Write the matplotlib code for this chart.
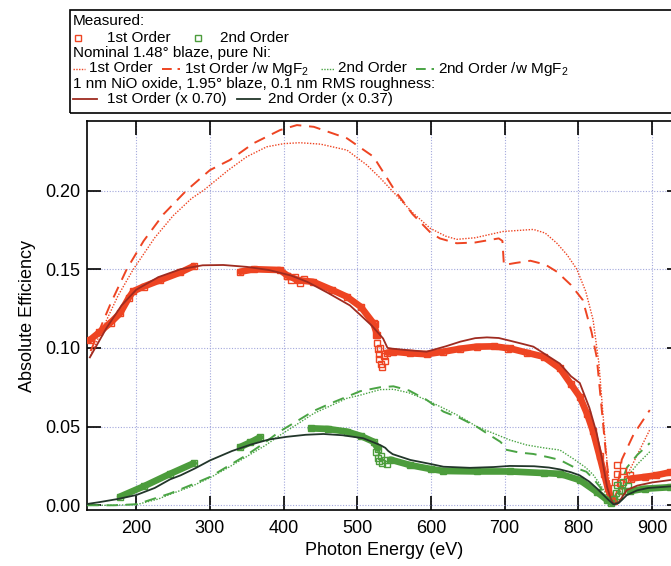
import matplotlib
matplotlib.use("Agg")
import matplotlib.pyplot as plt
from matplotlib.lines import Line2D
from matplotlib.patches import Rectangle

plt.rcParams["font.family"] = ["Liberation Sans", "DejaVu Sans"]
plt.rcParams["mathtext.fontset"] = "custom"
plt.rcParams["mathtext.rm"] = "Liberation Sans"
plt.rcParams["mathtext.it"] = "Liberation Sans:italic"

RED = "#ee4422"
GREEN = "#4c9c3c"
GREEN_LN = "#4aa444"
DARK_RED = "#9e2b20"
DARK_GREEN = "#22362a"
GRID = "#a3a8dc"

# nominal 1.48 deg blaze, pure Ni (1st order)
nom1_ev = [138, 150, 160, 175, 196, 225, 250, 275, 291, 325, 350, 377, 400, 422,
           450, 486, 513, 531, 547, 575, 599, 620, 635, 660, 698, 739, 755, 771,
           785, 798, 810, 820, 828, 834, 840, 845, 848, 855, 863, 880, 897]
nom1_val = [0.095, 0.108, 0.118, 0.133, 0.150, 0.170, 0.184, 0.195, 0.200, 0.213,
            0.2215, 0.2278, 0.2298, 0.2304, 0.2295, 0.2257, 0.2162, 0.208, 0.200,
            0.186, 0.176, 0.171, 0.169, 0.170, 0.174, 0.1753, 0.173, 0.1665,
            0.159, 0.150, 0.136, 0.118, 0.090, 0.055, 0.022, 0.006, 0.003,
            0.006, 0.016, 0.032, 0.048]

# same, with MgF2 overlayer (1st order)
nom1m_ev = [138, 165, 187, 210, 237, 268, 300, 327, 359, 395, 418, 441, 486, 522,
            551, 575, 600, 612, 635, 660, 692, 697, 699, 715, 735, 755, 771, 790,
            806, 818, 825, 832, 838, 843, 847, 852, 859, 875, 897]
nom1m_val = [0.098, 0.128, 0.150, 0.168, 0.185, 0.200, 0.213, 0.2194, 0.230,
             0.2384, 0.2416, 0.2405, 0.2332, 0.2215, 0.200, 0.185, 0.173, 0.1696,
             0.1665, 0.167, 0.1696, 0.168, 0.1527, 0.154, 0.1554, 0.153, 0.1484,
             0.140, 0.1305, 0.110, 0.094, 0.060, 0.030, 0.010, 0.003, 0.008,
             0.029, 0.045, 0.0605]

# nominal 2nd order
nom2_ev = [133, 170, 201, 230, 246, 275, 300, 325, 350, 375, 395, 420, 441, 465,
           486, 504, 531, 549, 570, 594, 620, 640, 662, 685, 707, 730, 753, 775,
           795, 810, 820, 830, 838, 845, 852, 860, 866, 880, 897]
nom2_val = [0.0, 0.0, 0.0005, 0.004, 0.007, 0.012, 0.0175, 0.024, 0.031, 0.038,
            0.0445, 0.052, 0.0584, 0.0635, 0.068, 0.070, 0.0735, 0.0737, 0.0715,
            0.0669, 0.061, 0.0563, 0.050, 0.0457, 0.0415, 0.0383, 0.0365, 0.0351,
            0.029, 0.024, 0.0195, 0.013, 0.007, 0.002, 0.004, 0.012, 0.018,
            0.026, 0.034]

# nominal 2nd order with MgF2
nom2m_ev = [133, 170, 201, 246, 275, 300, 325, 350, 375, 395, 420, 441, 465, 486,
            504, 531, 549, 570, 594, 617, 640, 662, 676, 694, 697, 700, 720, 739,
            760, 775, 795, 811, 822, 832, 840, 845, 852, 859, 866, 880, 897]
nom2m_val = [0.0, 0.0, 0.0007, 0.0075, 0.013, 0.018, 0.025, 0.032, 0.040, 0.047,
             0.054, 0.060, 0.065, 0.069, 0.0725, 0.0750, 0.0756, 0.073, 0.067,
             0.0595, 0.0553, 0.050, 0.0457, 0.0404, 0.039, 0.0355, 0.0335, 0.0326,
             0.0305, 0.0288, 0.024, 0.0213, 0.016, 0.010, 0.004, 0.0015, 0.005,
             0.015, 0.024, 0.032, 0.0395]

# model: 1 nm NiO, 1.95 deg blaze, 0.1 nm rms (scaled)
mod1_ev = [137, 160, 180, 200, 230, 260, 290, 318, 350, 380, 410, 432, 460, 490,
           504, 520, 535, 541, 548, 570, 594, 620, 640, 660, 676, 692, 707, 725,
           739, 755, 775, 790, 802, 815, 825, 832, 839, 844, 848, 855, 866, 880,
           900, 940]
mod1_val = [0.094, 0.113, 0.127, 0.137, 0.145, 0.150, 0.1525, 0.1527, 0.1515,
            0.1495, 0.146, 0.142, 0.135, 0.127, 0.121, 0.114, 0.106, 0.100,
            0.0995, 0.0985, 0.0976, 0.101, 0.104, 0.1062, 0.1067, 0.1063, 0.1046,
            0.1025, 0.1008, 0.096, 0.090, 0.082, 0.0777, 0.062, 0.0457, 0.030,
            0.0118, 0.004, 0.001, 0.002, 0.0097, 0.0125, 0.0145, 0.017]

mod2_ev = [133, 150, 175, 200, 225, 246, 260, 280, 300, 330, 355, 380, 404, 430,
           454, 480, 508, 531, 538, 542, 548, 572, 600, 617, 653, 685, 707, 740,
           760, 775, 790, 802, 815, 825, 834, 841, 848, 855, 866, 880, 895, 940]
mod2_val = [0.0008, 0.002, 0.004, 0.0065, 0.011, 0.0165, 0.019, 0.0235, 0.0285,
            0.0345, 0.0385, 0.0418, 0.0435, 0.0448, 0.0453, 0.0445, 0.0426,
            0.0383, 0.0365, 0.0345, 0.0325, 0.0288, 0.0262, 0.0245, 0.0238,
            0.0243, 0.025, 0.0248, 0.024, 0.0228, 0.021, 0.019, 0.015, 0.0108,
            0.0066, 0.0034, 0.0005, 0.0015, 0.0065, 0.0095, 0.011, 0.0125]

# measured 1st order, continuous runs
meas1_runs = [
    ([137, 150, 165, 178, 190, 196, 210, 232, 260, 278],
     [0.105, 0.110, 0.116, 0.122, 0.132, 0.136, 0.139, 0.143, 0.148, 0.152]),
    ([341, 360, 395, 405, 420, 440, 465, 486, 505, 522, 527],
     [0.1484, 0.150, 0.1495, 0.146, 0.143, 0.142, 0.137, 0.1325, 0.126, 0.1156,
      0.108]),
    ([541, 549, 572, 594, 617, 640, 662, 685, 707, 730, 753, 775, 790, 802, 812,
      820, 829, 835, 840, 845, 849],
     [0.097, 0.0976, 0.0966, 0.0960, 0.0976, 0.0995, 0.1008, 0.1010, 0.0997,
      0.097, 0.0944, 0.087, 0.077, 0.069, 0.058, 0.047, 0.031, 0.020, 0.011,
      0.004, 0.003]),
    ([872, 890, 905, 925, 940],
     [0.017, 0.018, 0.019, 0.021, 0.022]),
]
meas1_pts_ev = [405, 410, 415, 422, 428, 524, 526, 527, 528, 529, 530, 531, 532,
                534, 536, 538, 705, 850, 852, 853, 857, 859, 861, 866, 870]
meas1_pts_val = [0.146, 0.143, 0.145, 0.141, 0.144, 0.115, 0.108, 0.103, 0.099,
                 0.096, 0.093, 0.100, 0.090, 0.088, 0.095, 0.092, 0.099, 0.015,
                 0.0256, 0.020, 0.014, 0.009, 0.022, 0.0165, 0.019]

# measured 2nd order, continuous runs
meas2_runs = [
    ([178, 210, 246, 278],
     [0.0055, 0.012, 0.020, 0.0267]),
    ([341, 355, 368],
     [0.037, 0.040, 0.0432]),
    ([437, 460, 486, 505, 522, 528],
     [0.0489, 0.0485, 0.0468, 0.0440, 0.0404, 0.036]),
    ([545, 572, 600, 617, 662, 707, 753, 775, 802, 825, 839, 845],
     [0.029, 0.0255, 0.023, 0.0218, 0.0215, 0.0215, 0.0205, 0.0200, 0.016,
      0.0085, 0.0034, 0.0015]),
    ([870, 890, 925, 940],
     [0.009, 0.0105, 0.0115, 0.012]),
]
meas2_pts_ev = [526, 528, 530, 532, 534, 537, 540, 848, 851, 853, 855, 858, 861,
                864, 868]
meas2_pts_val = [0.034, 0.030, 0.028, 0.031, 0.027, 0.029, 0.026, 0.004, 0.008,
                 0.013, 0.006, 0.010, 0.015, 0.009, 0.012]

W, H = 671, 566
fig = plt.figure(figsize=(W / 100, H / 100), dpi=100)
ax = fig.add_axes([87 / W, (H - 510) / H, (681 - 87) / W, (510 - 121) / H])

# nominal curves
ax.plot(nom1_ev, nom1_val, color=RED, lw=1.0, dashes=(1, 1.1), zorder=3)
ax.plot(nom1m_ev, nom1m_val, color=RED, lw=1.4, dashes=(6, 4), zorder=3)
ax.plot(nom2_ev, nom2_val, color=GREEN_LN, lw=1.0, dashes=(1, 1.1), zorder=3)
ax.plot(nom2m_ev, nom2m_val, color=GREEN_LN, lw=1.4, dashes=(6, 4), zorder=3)

# measured data: dense open squares merge into a band
for ev, val in meas1_runs:
    ax.plot(ev, val, color=RED, lw=4.8, solid_capstyle="round", zorder=4)
    ax.plot(ev, val, ls="none", marker="s", ms=4.5, mfc="none", mec=RED,
            mew=1.0, zorder=4)
ax.plot(meas1_pts_ev, meas1_pts_val, ls="none", marker="s", ms=4.5, mfc="none",
        mec=RED, mew=1.0, zorder=4)
for ev, val in meas2_runs:
    ax.plot(ev, val, color=GREEN, lw=4.8, solid_capstyle="round", zorder=4)
    ax.plot(ev, val, ls="none", marker="s", ms=4.5, mfc="none", mec=GREEN,
            mew=1.0, zorder=4)
ax.plot(meas2_pts_ev, meas2_pts_val, ls="none", marker="s", ms=4.5, mfc="none",
        mec=GREEN, mew=1.0, zorder=4)

# model curves
ax.plot(mod1_ev, mod1_val, color=DARK_RED, lw=1.3, zorder=5)
ax.plot(mod2_ev, mod2_val, color=DARK_GREEN, lw=1.3, zorder=5)

ax.set_xlim(133.1, 939.4)
ax.set_ylim(-0.003, 0.2442)
ax.set_xticks([200, 300, 400, 500, 600, 700, 800, 900])
ax.set_yticks([0.0, 0.05, 0.10, 0.15, 0.20])
ax.set_yticklabels(["0.00", "0.05", "0.10", "0.15", "0.20"])
ax.tick_params(direction="in", length=10, width=1.2, top=True, right=True,
               labelsize=13, pad=5)
ax.tick_params(axis="x", pad=7)
for sp in ax.spines.values():
    sp.set_linewidth(1.2)
ax.grid(True, color=GRID, ls=(0, (1, 1.5)), lw=0.8)
ax.set_axisbelow(True)
ax.set_xlabel("Photon Energy (eV)", fontsize=13, labelpad=4)
ax.set_ylabel("Absolute Efficiency", fontsize=13, labelpad=6)

# legend box, laid out in pixel positions
renderer = fig.canvas.get_renderer()
LEG_FS = 11


def fx(x):
    return x / W


def fy(y):
    return 1 - y / H


fig.patches.append(Rectangle((fx(70), fy(113)), fx(700) - fx(70), fy(10) - fy(113),
                             transform=fig.transFigure, fill=False,
                             edgecolor="black", lw=1.2))


def leg_text(x, y, s):
    t = fig.text(fx(x), fy(y), s, fontsize=LEG_FS, va="baseline", ha="left")
    return x + t.get_window_extent(renderer).width


def leg_line(x0, x1, y, **kw):
    fig.add_artist(Line2D([fx(x0), fx(x1)], [fy(y), fy(y)],
                          transform=fig.transFigure, **kw))


def leg_square(x, y, color):
    fig.add_artist(Line2D([fx(x)], [fy(y)], transform=fig.transFigure,
                          ls="none", marker="s", ms=5, mfc="none", mec=color,
                          mew=1.0))


leg_text(73, 25, "Measured:")
leg_square(78, 37.5, RED)
leg_text(107, 41.7, "1st Order")
leg_square(198, 37.5, GREEN)
leg_text(220, 41.7, "2nd Order")

leg_text(73, 57, "Nominal 1.48° blaze, pure Ni:")
y4, m4 = 72.5, 68.5
leg_line(73, 85, m4, color=RED, lw=1.0, dashes=(1, 1))
x = leg_text(89, y4, "1st Order")
leg_line(x + 9, x + 27, m4, color=RED, lw=1.4, dashes=(5, 3))
x = leg_text(x + 31, y4, "1st Order /w MgF$_2$")
leg_line(x + 12, x + 25, m4, color=GREEN_LN, lw=1.0, dashes=(1, 1))
x = leg_text(x + 29, y4, "2nd Order")
leg_line(x + 9, x + 27, m4, color=GREEN_LN, lw=1.4, dashes=(5, 3))
leg_text(x + 31, y4, "2nd Order /w MgF$_2$")

leg_text(73, 88, "1 nm NiO oxide, 1.95° blaze, 0.1 nm RMS roughness:")
y6, m6 = 103.5, 99
leg_line(73, 97, m6, color=DARK_RED, lw=1.3)
x = leg_text(107, y6, "1st Order (x 0.70)")
leg_line(x + 10, x + 33, m6, color=DARK_GREEN, lw=1.3)
leg_text(x + 41, y6, "2nd Order (x 0.37)")

fig.savefig("out.png", dpi=100)
